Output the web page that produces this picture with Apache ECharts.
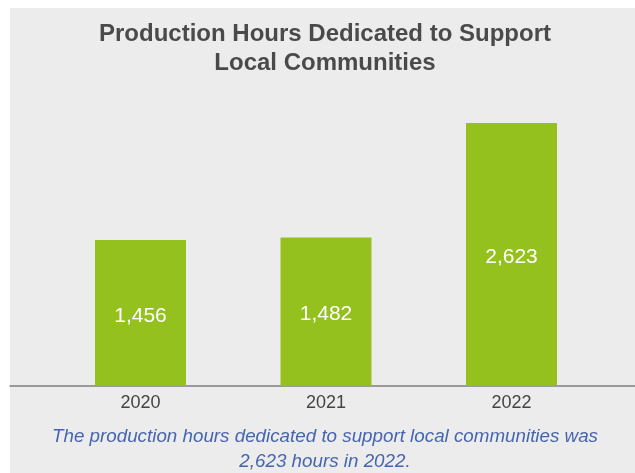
<!DOCTYPE html>
<html>
<head>
<meta charset="utf-8">
<script src="https://cdn.jsdelivr.net/npm/echarts@6/dist/echarts.min.js"></script>
<style>
  html, body { margin: 0; padding: 0; background: #ffffff; }
  #chart { width: 635px; height: 473px; }
</style>
</head>
<body>
<div id="chart"></div>
<script>
// Production hours per year
const years = ['2020', '2021', '2022'];
const hours = [1456, 1482, 2623];
const titleLines = ['Production Hours Dedicated to Support', 'Local Communities'];
const captionLines = ['The production hours dedicated to support local communities was', '2,623 hours in 2022.'];

const chart = echarts.init(document.getElementById('chart'));
const fmt = v => v.toLocaleString('en-US');
const FONT = 'Liberation Sans, Arial, sans-serif';

chart.setOption({
  backgroundColor: '#ffffff',
  animation: false,
  graphic: [
    { type: 'rect', left: 10, top: 8, shape: { width: 625, height: 465 }, style: { fill: '#ececec' }, z: -10, silent: true }
  ],
  title: [
    {
      text: titleLines.join('\n'),
      left: 320,
      textAlign: 'center',
      top: 15,
      textStyle: { fontFamily: FONT, fontWeight: 'bold', fontSize: 24, color: '#4a4a4a', lineHeight: 29 }
    },
    {
      text: captionLines.join('\n'),
      left: 320,
      textAlign: 'center',
      top: 420,
      textStyle: { fontFamily: FONT, fontWeight: 'normal', fontStyle: 'italic', fontSize: 18.8, color: '#4565b0', lineHeight: 24.5 }
    }
  ],
  grid: [
    { left: 47.75, right: 30.75, top: 85.2, bottom: 87 },
    { left: 10, right: 0, top: 85.2, bottom: 87 }
  ],
  xAxis: [
    {
      type: 'category',
      data: years,
      gridIndex: 0,
      axisLine: { show: false },
      axisTick: { show: false },
      axisLabel: { fontFamily: FONT, fontSize: 18, color: '#444444', margin: 8 }
    },
    {
      type: 'value',
      gridIndex: 1,
      axisLine: { show: true, lineStyle: { color: '#7f7f7f', width: 1.5 } },
      axisTick: { show: false },
      axisLabel: { show: false },
      splitLine: { show: false }
    }
  ],
  yAxis: [
    { type: 'value', gridIndex: 0, min: 0, max: 3000, show: false },
    { type: 'value', gridIndex: 1, min: 0, max: 3000, show: false }
  ],
  series: [
    {
      type: 'bar',
      xAxisIndex: 0,
      yAxisIndex: 0,
      data: hours,
      barWidth: 91,
      itemStyle: { color: '#95c11f' },
      label: {
        show: true,
        position: 'inside',
        offset: [0, 3],
        formatter: p => fmt(p.value),
        color: '#ffffff',
        fontFamily: FONT,
        fontSize: 21
      }
    }
  ]
});
</script>
</body>
</html>
